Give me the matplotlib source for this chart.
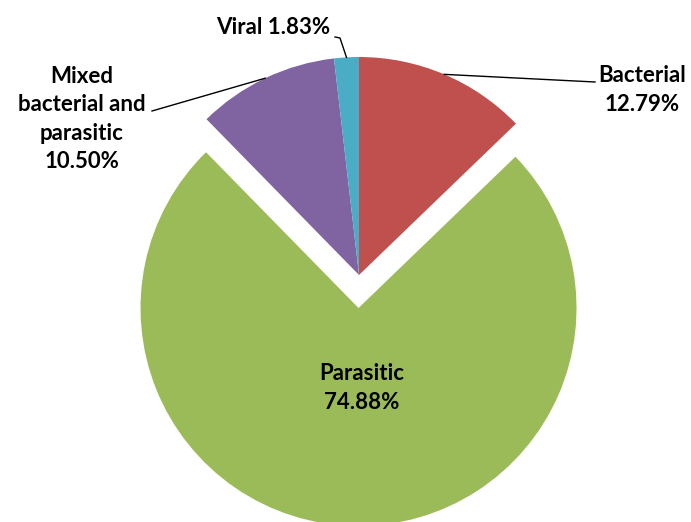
import numpy as np
import matplotlib
matplotlib.use("Agg")
import matplotlib.pyplot as plt

labels = ["Bacterial", "Parasitic", "Mixed\nbacterial and\nparasitic", "Viral"]
values = [12.79, 74.88, 10.50, 1.83]
colors = ["#C0504D", "#9BBB59", "#8064A2", "#4BACC6"]

plt.rcParams["font.family"] = ["Lato", "DejaVu Sans"]

W, H = 691, 522
fig = plt.figure(figsize=(W / 100, H / 100), dpi=100)
ax = fig.add_axes([0, 0, 1, 1])

cx, cy, R = 359, 247, 218
wedges, _ = ax.pie(values, colors=colors, startangle=90, counterclock=False,
                   radius=R, center=(cx, cy), explode=[0, 33, 0, 0],
                   wedgeprops=dict(linewidth=0), frame=True)
ax.set_xlim(0, W)
ax.set_ylim(0, H)
ax.set_aspect("equal")
ax.axis("off")


def edge_point(w):
    a = np.deg2rad((w.theta1 + w.theta2) / 2)
    x0, y0 = w.center
    return x0 + w.r * np.cos(a), y0 + w.r * np.sin(a)


def pct(v):
    return f"{v:.2f}%"


fs = 16
ls = 1.45
lc = "black"

# Bacterial
bx, by = edge_point(wedges[0])
ax.plot([bx, 595], [by, H - 82], color=lc, lw=1.0)
ax.text(642, H - 90, f"{labels[0]}\n{pct(values[0])}", ha="center", va="center",
        fontsize=fs, fontweight="bold", linespacing=ls)

# Parasitic
ax.text(362, H - 388, f"{labels[1]}\n{pct(values[1])}", ha="center", va="center",
        fontsize=fs, fontweight="bold", linespacing=ls)

# Mixed
mx, my = edge_point(wedges[2])
ax.plot([152, mx], [H - 111, my], color=lc, lw=1.0)
ax.text(82, H - 119, f"{labels[2]}\n{pct(values[2])}", ha="center", va="center",
        fontsize=fs, fontweight="bold", linespacing=ls)

# Viral
vx, vy = edge_point(wedges[3])
ax.plot([335, 340, vx], [H - 37, H - 38, vy], color=lc, lw=1.0)
ax.text(273, H - 28, f"{labels[3]} {pct(values[3])}", ha="center", va="center",
        fontsize=fs, fontweight="bold")

fig.savefig("out.png", dpi=100)
